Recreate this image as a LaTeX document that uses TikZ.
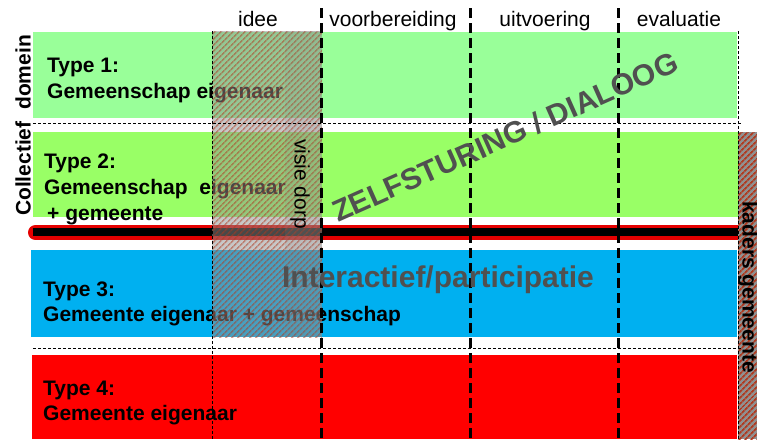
\documentclass[tikz,border=0pt]{standalone}
\usepackage{fontspec}
\setmainfont{Liberation Sans}
\usepackage{xcolor}
\usepackage{tikz}
\usetikzlibrary{patterns.meta}
\usetikzlibrary{positioning}

\definecolor{rowone}{HTML}{99FF99}
\definecolor{rowtwo}{HTML}{99FF66}
\definecolor{rowthree}{HTML}{00B0F0}
\definecolor{rowfour}{HTML}{FF0000}
\definecolor{hatchred}{HTML}{B03A20}
\definecolor{hatchgray}{HTML}{909090}
\definecolor{bigtext}{HTML}{505050}

\begin{document}
\begin{tikzpicture}[x=1pt,y=-1pt,
    hatched/.style={fill=hatchgray,fill opacity=0.5,
      postaction={pattern={Lines[angle=45,distance=4pt,line width=1.7pt]},pattern color=hatchred,fill opacity=0.5}},
    solidhatch/.style={fill=hatchgray,
      postaction={pattern={Lines[angle=45,distance=4pt,line width=1.8pt]},pattern color=hatchred}},
    thickdash/.style={draw=black,line width=2.6pt,dash pattern=on 10pt off 5pt},
    thindash/.style={draw=black,line width=1pt,dash pattern=on 3pt off 2pt}]
  \useasboundingbox (0,0) rectangle (757,439);
  % rows
  \fill[rowone] (33,32) rectangle (737,118);
  \fill[rowtwo] (33,132) rectangle (738,217);
  \fill[rowthree] (31,250) rectangle (737,337);
  \fill[rowfour] (32,355) rectangle (737,439);
  \begin{scope}[every node/.style={anchor=base west,inner sep=0pt,font=\bfseries\fontsize{21}{21}\selectfont}]
    \node (type1) at (47,72) {Type 1:};
    \node (own1) at (47,98) {Gemeenschap eigenaar};
    \node (type2) at (44,168) {Type 2:};
    \node (own2) at (44,194) {Gemeenschap\ \ eigenaar};
    \node (plus2) at (47,220) {+ gemeente};
    \node (type3) at (43,296) {Type 3:};
    \node (own3) at (43,321) {Gemeente eigenaar + gemeenschap};
    \node (type4) at (43,395) {Type 4:};
    \node (own4) at (43,420) {Gemeente eigenaar};
  \end{scope}
  % grens collectief / gemeente
  \draw[red!90!black,line width=15pt,line cap=round] (35.5,232.5) -- (790,232.5);
  \draw[black,line width=8pt] (33,232) -- (790,232);
  % arceringen
  \path[hatched] (212,31) rectangle (322,337);
  \fill[gray,fill opacity=0.15] (285,31) rectangle (322,337);
  \path[solidhatch] (738,132) rectangle (757,439);
  % stippellijnen
  \draw[thindash] (33,123) -- (742,123);
  \draw[thindash] (33,348) -- (742,348);
  \draw[thindash] (212,31) -- (212,439);
  \draw[thindash] (738,31) -- (738,439);
  \foreach \x in {321.5,470.5,618.5}
    \draw[thickdash] (\x,8) -- (\x,439);
  \begin{scope}[every node/.style={anchor=base,inner sep=0pt,font=\fontsize{21}{21}\selectfont}]
    \node (idee) at (258,27) {idee};
    \node (voorb) at (393,27) {voorbereiding};
    \node (uitv) at (545,27) {uitvoering};
    \node (eval) at (679,27) {evaluatie};
  \end{scope}
  \node[rotate=90,font=\bfseries\fontsize{21}{21}\selectfont] (collectief) at (23,125.5) {Collectief\ \ domein};
  \node[rotate=-90,font=\fontsize{21}{21}\selectfont] (visie) at (300,184) {visie dorp};
  \node[rotate=-90,font=\bfseries\fontsize{21}{21}\selectfont] (kaders) at (748,287) {kaders gemeente};
  \node[rotate=24,text=bigtext,font=\bfseries\fontsize{30}{30}\selectfont] (zelf) at (505,137) {ZELFSTURING / DIALOOG};
  \node[text=bigtext,font=\bfseries\fontsize{30}{30}\selectfont] (inter) at (438,280) {Interactief/participatie};
\end{tikzpicture}
\end{document}
